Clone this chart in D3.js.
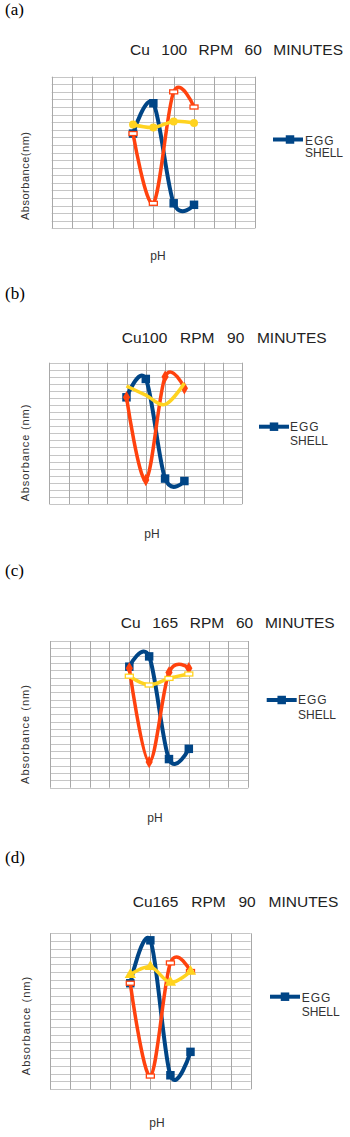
<!DOCTYPE html>
<html>
<head>
<meta charset="utf-8">
<script src="https://cdn.jsdelivr.net/npm/d3@7"></script>
<style>
  body { margin: 0; background: #fff; }
  svg { display: block; }
</style>
</head>
<body>
<script>
// chart data
var panelLetters = ["(a)", "(b)", "(c)", "(d)"];
var panelTitles = ["Cu 100 RPM 60 MINUTES", "Cu100 RPM 90 MINUTES", "Cu 165 RPM 60 MINUTES", "Cu165 RPM 90 MINUTES"];
var yLabels = ["Absorbance(nm)", "Absorbance (nm)", "Absorbance (nm)", "Absorbance (nm)"];
var xLabel = "pH";
var legendLabel = ["EGG", "SHELL"];
var phPoints = [4, 5, 6, 7];

// series values, one row per panel (grid units 0-20)
var eggShell = [
  [12.5, 16.5, 3.3, 3.1],
  [15.1, 17.7, 3.6, 3.25],
  [16.5, 17.9, 3.9, 5.3],
  [13.6, 19.1, 1.8, 4.8]
];
var orangeSeries = [
  [12.5, 3.3, 18.0, 16.0],
  [15.1, 3.4, 18.0, 16.4],
  [16.3, 3.5, 15.7, 16.3],
  [13.6, 1.7, 16.2, 15.1]
];
var yellowSeries = [
  [13.7, 13.3, 14.1, 13.9],
  [16.7, 15.4, 14.1, 17.1],
  [15.2, 14.0, 14.9, 15.5],
  [14.7, 15.7, 13.7, 15.1]
];

// marker shapes per panel
var orangeMarkers = ["rect", "diamond", "diamond", "rect"];
var yellowMarkers = ["circle", "none", "rect", "triangle"];

// layout of each panel
var layouts = [
  { plot: [51.7, 255, 76.7, 228.3], title: [130, 55, 213], letter: 15, ylab: [29, 176, 88], ph: [158, 260],
    legend: { x1: 273, x2: 303, y: 139.5, mx: 290, tx: 305, ty: [145, 157] } },
  { plot: [49.3, 242.3, 362.7, 504], title: [121.7, 343.3, 205], letter: 299, ylab: [29, 453, 96.7], ph: [152, 538],
    legend: { x1: 259, x2: 289, y: 426.7, mx: 274, tx: 290, ty: [431, 444.5] } },
  { plot: [50, 248.3, 641, 787.7], title: [120.7, 628.3, 214], letter: 576, ylab: [29, 734.5, 99], ph: [155, 821.7],
    legend: { x1: 266.7, x2: 296.7, y: 700, mx: 281.7, tx: 298, ty: [704, 718.5] } },
  { plot: [50, 250.7, 933.3, 1089.3], title: [132.7, 906.7, 205.6], letter: 863, ylab: [30, 1026, 98.3], ph: [157, 1127],
    legend: { x1: 270, x2: 300, y: 996.7, mx: 285, tx: 301.7, ty: [1001.5, 1015.5] } }
];

var blueColor = "#004586";
var orangeColor = "#ff420e";
var yellowColor = "#ffd320";
var textColor = "#333333";
var sansFont = "'Liberation Sans', Arial, sans-serif";

var width = 350;
var height = 1137;

var svg = d3.select("body")
    .append("svg")
    .attr("width", width)
    .attr("height", height);

function drawMarker(g, shape, color, cx, cy) {
  if (shape == "none") return;
  if (shape == "rect") {
    g.append("rect")
      .attr("x", cx - 4).attr("y", cy - 2)
      .attr("width", 8).attr("height", 4)
      .attr("fill", "#fff")
      .attr("stroke", color)
      .attr("stroke-width", 1.3);
    return;
  }
  var types = { square: d3.symbolSquare, circle: d3.symbolCircle, diamond: d3.symbolDiamond, triangle: d3.symbolTriangle };
  var sizes = { square: 72, circle: 50, diamond: 45, triangle: 55 };
  g.append("path")
    .attr("transform", "translate(" + cx + "," + cy + ")")
    .attr("d", d3.symbol().type(types[shape]).size(sizes[shape])())
    .attr("fill", color);
}

function drawPanel(i) {
  var lay = layouts[i];
  var g = svg.append("g");

  var x = d3.scaleLinear().domain([0, 10]).range([lay.plot[0], lay.plot[1]]);
  var y = d3.scaleLinear().domain([0, 20]).range([lay.plot[3], lay.plot[2]]);

  // letter
  g.append("text")
    .attr("x", 5).attr("y", lay.letter)
    .attr("font-family", "'Liberation Serif', 'Times New Roman', serif")
    .attr("font-size", 17)
    .attr("fill", "#000")
    .text(panelLetters[i]);

  // title, wide word gaps
  var title = g.append("text")
    .attr("x", lay.title[0]).attr("y", lay.title[1])
    .attr("font-family", sansFont)
    .attr("font-size", 15.5)
    .attr("fill", "#222")
    .text(panelTitles[i]);
  var spaces = panelTitles[i].split(" ").length - 1;
  var extra = (lay.title[2] - title.node().getComputedTextLength()) / spaces;
  title.attr("word-spacing", Math.max(0, extra));

  // grid
  var hTicks = d3.range(0, 21);
  var vTicks = d3.range(0, 11);
  g.append("g").selectAll("line")
    .data(hTicks)
    .enter().append("line")
    .attr("x1", x(0)).attr("x2", x(10))
    .attr("y1", function(d) { return Math.round(y(d)) + 0.5; })
    .attr("y2", function(d) { return Math.round(y(d)) + 0.5; })
    .attr("stroke", "#c6c6c6")
    .attr("stroke-width", 1);
  g.append("g").selectAll("line")
    .data(vTicks)
    .enter().append("line")
    .attr("x1", function(d) { return Math.round(x(d)) + 0.5; })
    .attr("x2", function(d) { return Math.round(x(d)) + 0.5; })
    .attr("y1", y(20)).attr("y2", y(0))
    .attr("stroke", "#a8a8a8")
    .attr("stroke-width", 1);

  var line = d3.line()
    .x(function(d, j) { return x(phPoints[j]); })
    .y(function(d) { return y(d); })
    .curve(d3.curveCatmullRom.alpha(0));

  // series: blue, orange, yellow
  g.append("path")
    .attr("d", line(eggShell[i]))
    .attr("fill", "none")
    .attr("stroke", blueColor)
    .attr("stroke-width", 4);
  eggShell[i].forEach(function(v, j) { drawMarker(g, "square", blueColor, x(phPoints[j]), y(v)); });

  g.append("path")
    .attr("d", line(orangeSeries[i]))
    .attr("fill", "none")
    .attr("stroke", orangeColor)
    .attr("stroke-width", 3.5);
  orangeSeries[i].forEach(function(v, j) { drawMarker(g, orangeMarkers[i], orangeColor, x(phPoints[j]), y(v)); });

  g.append("path")
    .attr("d", line(yellowSeries[i]))
    .attr("fill", "none")
    .attr("stroke", yellowColor)
    .attr("stroke-width", 3.5);
  yellowSeries[i].forEach(function(v, j) { drawMarker(g, yellowMarkers[i], yellowColor, x(phPoints[j]), y(v)); });

  // y label
  g.append("text")
    .attr("transform", "translate(" + lay.ylab[0] + "," + lay.ylab[1] + ") rotate(-90)")
    .attr("text-anchor", "middle")
    .attr("textLength", lay.ylab[2])
    .attr("lengthAdjust", "spacing")
    .attr("font-family", sansFont)
    .attr("font-size", 11)
    .attr("fill", textColor)
    .text(yLabels[i]);

  // x label
  g.append("text")
    .attr("x", lay.ph[0]).attr("y", lay.ph[1])
    .attr("text-anchor", "middle")
    .attr("font-family", sansFont)
    .attr("font-size", 12)
    .attr("fill", textColor)
    .text(xLabel);

  // legend
  var lg = lay.legend;
  g.append("line")
    .attr("x1", lg.x1).attr("x2", lg.x2)
    .attr("y1", lg.y).attr("y2", lg.y)
    .attr("stroke", blueColor)
    .attr("stroke-width", 4);
  drawMarker(g, "square", blueColor, lg.mx, lg.y);
  legendLabel.forEach(function(t, k) {
    g.append("text")
      .attr("x", lg.tx).attr("y", lg.ty[k])
      .attr("font-family", sansFont)
      .attr("font-size", 12)
      .attr("letter-spacing", k == 0 ? 1 : 0)
      .attr("fill", textColor)
      .text(t);
  });
}

for (var i = 0; i < 4; i++) {
  drawPanel(i);
}
</script>
</body>
</html>
